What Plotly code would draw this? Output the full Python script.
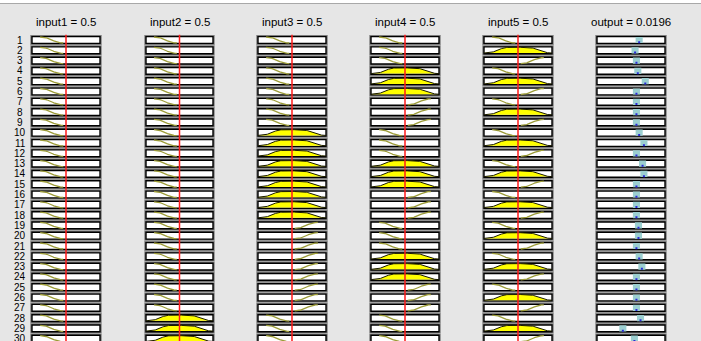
import numpy as np
import plotly.graph_objects as go

# ---------------- data ----------------
rows = list(range(1, 31))
titles = ["input1 = 0.5", "input2 = 0.5", "input3 = 0.5", "input4 = 0.5", "input5 = 0.5", "output = 0.0196"]
input_value = [0.5, 0.5, 0.5, 0.5, 0.5]
# membership function used by each rule (L = low, M = medium, H = high)
input1 = list("LLLLLLLLLLLLLLLLLLLLLLLLLLLLLL")
input2 = list("LLLLLLLLLLLLLLLLLLLLLLLLLLLMMM")
input3 = list("LLLLLLLLLMMMMMMMMMHHHHHHHHHLLL")
input4 = list("LLLMMMHHHLLLMMMHHHLLLMMMHHHLLL")
input5 = list("LMHLMHLMHLMHLMHLMHLMHLMHLMHLMH")
# output of each rule (normalised position in output range)
output_vals = [0.62, 0.56, 0.58, 0.60, 0.71, 0.58, 0.58, 0.58, 0.58, 0.62,
               0.69, 0.58, 0.67, 0.69, 0.58, 0.58, 0.58, 0.58, 0.61, 0.61,
               0.58, 0.62, 0.66, 0.58, 0.58, 0.58, 0.58, 0.64, 0.38, 0.55]
inputs = [input1, input2, input3, input4, input5]

# ---------------- layout constants ----------------
W, H = 701, 341
col_px = [(32, 100), (146, 213), (258, 326), (371, 439), (484, 552), (597, 665)]
row0_px, row_dy = 40.0, 10.3
pad = 0.1

def zmf(x, a, b):
    m = (a + b) / 2
    y = np.ones_like(x)
    y = np.where((x > a) & (x <= m), 1 - 2 * ((x - a) / (b - a)) ** 2, y)
    y = np.where((x > m) & (x < b), 2 * ((x - b) / (b - a)) ** 2, y)
    y = np.where(x >= b, 0.0, y)
    return y

def smf(x, a, b):
    return 1 - zmf(x, a, b)

def gbell(x, a, b, c):
    return 1 / (1 + np.abs((x - c) / a) ** (2 * b))

def ypos(r, mu):
    return (r + 0.29 - 0.58 * mu).tolist()

fig = go.Figure()
shapes = []
refs = ["x"] + [f"x{k+1}" for k in range(1, 6)]

for k in range(6):
    xr = refs[k]
    for r in rows:
        shapes.append(dict(type="rect", xref=xr, yref="y", x0=-0.025, x1=1.025, y0=r - 0.49, y1=r + 0.49,
                           fillcolor="#7d7d7d", line=dict(width=0), layer="below"))
        shapes.append(dict(type="rect", xref=xr, yref="y", x0=0, x1=1, y0=r - 0.33, y1=r + 0.33,
                           fillcolor="white", line=dict(color="black", width=1.4), layer="below"))

# output bars
for r, v in zip(rows, output_vals):
    shapes.append(dict(type="rect", xref="x6", yref="y", x0=v - 0.052, x1=v + 0.052, y0=r - 0.3, y1=r + 0.3,
                       fillcolor="#9ccfd0", line=dict(width=0), layer="below"))

# input membership curves
for k, rules in enumerate(inputs):
    xr = refs[k]
    for r, mf in zip(rows, rules):
        if mf == "L":
            xs = np.linspace(0.12, 0.46, 40)
            mu = zmf(xs, 0.12, 0.46)
            fig.add_trace(go.Scatter(x=xs.tolist(), y=ypos(r, mu), mode="lines",
                                     line=dict(color="#9c9c38", width=1.3),
                                     xaxis=xr, yaxis="y", hoverinfo="skip", showlegend=False))
        elif mf == "H":
            xs = np.linspace(0.54, 0.88, 40)
            mu = smf(xs, 0.54, 0.88)
            fig.add_trace(go.Scatter(x=xs.tolist(), y=ypos(r, mu), mode="lines",
                                     line=dict(color="#9c9c38", width=1.3),
                                     xaxis=xr, yaxis="y", hoverinfo="skip", showlegend=False))
        else:
            xs = np.linspace(0.0, 1.0, 121)
            mu = gbell(xs, 0.3, 3.0, 0.5)
            fig.add_trace(go.Scatter(x=xs.tolist(), y=ypos(r, mu), mode="lines", fill="toself",
                                     fillcolor="#ffff00", line=dict(color="#1a1a00", width=1),
                                     xaxis=xr, yaxis="y", hoverinfo="skip", showlegend=False))
    # red input line
    fig.add_trace(go.Scatter(x=[input_value[k], input_value[k]], y=[0.5, 31], mode="lines",
                             line=dict(color="#ff1a1a", width=1.5),
                             xaxis=xr, yaxis="y", hoverinfo="skip", showlegend=False))

# output blue markers
fig.add_trace(go.Scatter(x=output_vals, y=[r + 0.22 for r in rows], mode="markers",
                         marker=dict(symbol="square", size=2, color="#2a2ad8", line=dict(width=0)),
                         xaxis="x6", yaxis="y", hoverinfo="skip", showlegend=False))

# axes
layout_axes = {}
for k, (x0, x1) in enumerate(col_px):
    w = x1 - x0
    name = "xaxis" if k == 0 else f"xaxis{k+1}"
    layout_axes[name] = dict(domain=[(x0 - pad * w) / W, (x1 + pad * w) / W], range=[-pad, 1 + pad],
                             visible=False, showgrid=False, zeroline=False, anchor="y", fixedrange=True)

y_top = 1 - row0_px / row_dy
y_bot = 1 + (H - row0_px) / row_dy
layout_axes["yaxis"] = dict(domain=[0, 1], range=[y_bot, y_top], visible=False, showgrid=False,
                            zeroline=False, fixedrange=True)

annotations = []
for k, (x0, x1) in enumerate(col_px):
    annotations.append(dict(text=titles[k], xref="paper", yref="paper", x=(x0 + x1) / 2 / W,
                            y=1 - 22 / H, xanchor="center", yanchor="middle", showarrow=False,
                            font=dict(family="Liberation Sans, Arial, sans-serif", size=11.5, color="black")))
for r in rows:
    annotations.append(dict(text=str(r), xref="paper", yref="y", x=20 / W, y=r, xanchor="center",
                            yanchor="middle", showarrow=False,
                            font=dict(family="Liberation Sans, Arial, sans-serif", size=10, color="black")))

# background frame: white strip at top, thin grey line
shapes.insert(0, dict(type="rect", xref="paper", yref="paper", x0=0, x1=1, y0=1 - 3 / H, y1=1,
                      fillcolor="white", line=dict(width=0), layer="below"))
shapes.insert(1, dict(type="line", xref="paper", yref="paper", x0=0, x1=1, y0=1 - 3.5 / H, y1=1 - 3.5 / H,
                      line=dict(color="#a8a8a8", width=1), layer="below"))

fig.update_layout(width=W, height=H, margin=dict(l=0, r=0, t=0, b=0),
                  paper_bgcolor="#e6e6e6", plot_bgcolor="rgba(0,0,0,0)",
                  shapes=shapes, annotations=annotations, showlegend=False, **layout_axes)

fig.write_html("out.html", config={"displayModeBar": False},
               post_script="document.body.style.margin='0px';document.body.style.overflow='hidden';")
